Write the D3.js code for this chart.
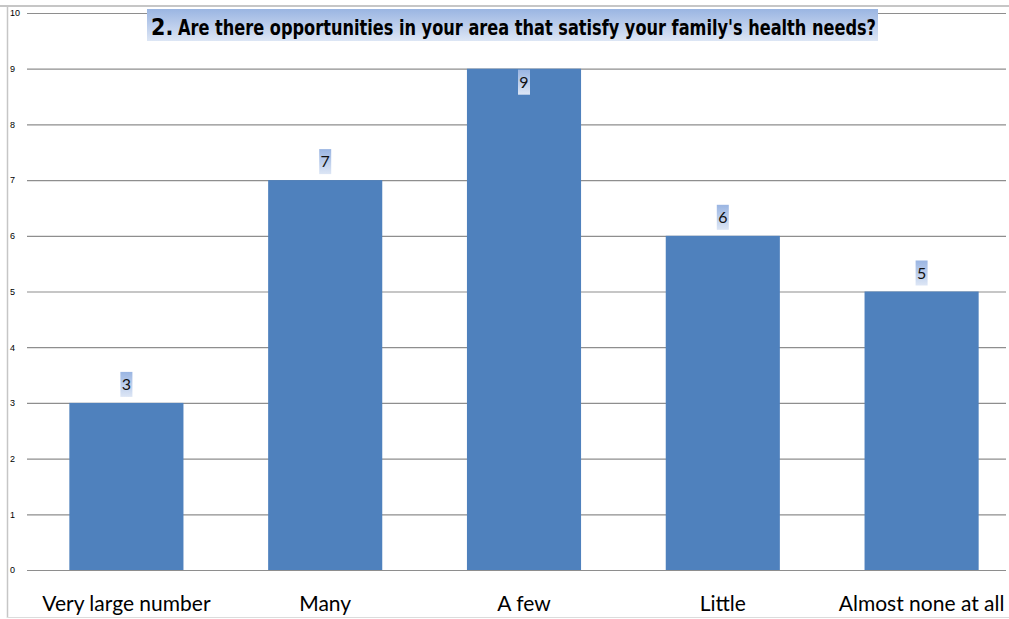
<!DOCTYPE html>
<html>
<head>
<meta charset="utf-8">
<script src="https://cdn.jsdelivr.net/npm/d3@7"></script>
<style>
  html, body { margin: 0; padding: 0; background: #fff; }
  svg { display: block; }
</style>
</head>
<body>
<svg id="chart" width="1009" height="619"></svg>
<script>
// Survey answers: number of respondents per answer
const categories = ["Very large number", "Many", "A few", "Little", "Almost none at all"];
const counts = [3, 7, 9, 6, 5];
const yTicks = [0, 1, 2, 3, 4, 5, 6, 7, 8, 9, 10];
const titleNumber = "2.";
const titleText = "Are there opportunities in your area that satisfy your family's health needs?";

const svg = d3.select("#chart");
const W = 1009, H = 619;

// gradient used for the title and value-label highlights
const defs = svg.append("defs");
const g1 = defs.append("linearGradient").attr("id", "hl").attr("x1", 0).attr("y1", 0).attr("x2", 0).attr("y2", 1);
g1.append("stop").attr("offset", "0%").attr("stop-color", "#9ab5e2");
g1.append("stop").attr("offset", "100%").attr("stop-color", "#dde6f5");

// outer frame
svg.append("line").attr("x1", 0).attr("x2", W).attr("y1", 6).attr("y2", 6)
  .attr("stroke", "#c6c6c6").attr("stroke-width", 2);
svg.append("line").attr("x1", 7.5).attr("x2", 7.5).attr("y1", 5).attr("y2", 618)
  .attr("stroke", "#c6c6c6").attr("stroke-width", 1.5);
svg.append("line").attr("x1", 7).attr("x2", W).attr("y1", 617.5).attr("y2", 617.5)
  .attr("stroke", "#dcdcdc").attr("stroke-width", 1);

const x = d3.scaleBand().domain(categories).range([27, 1021]).paddingInner(0.426).paddingOuter(0.213);
const y = d3.scaleLinear().domain([0, 10]).range([570, 13]);

// horizontal gridlines with tick labels
const yAxis = d3.axisLeft(y).tickValues(yTicks).tickSize(-(1006 - 27)).tickFormat(d3.format("d"));
const ya = svg.append("g").attr("transform", "translate(27,0)").call(yAxis);
ya.select(".domain").remove();
ya.selectAll(".tick line").attr("stroke", "#8e8e8e").attr("stroke-width", 1.2);
ya.selectAll(".tick text").attr("x", -17).attr("text-anchor", "start")
  .attr("font-family", "Liberation Sans, Arial, sans-serif").attr("font-size", 9).attr("fill", "#000");

// bars
svg.append("g").selectAll("rect").data(counts).join("rect")
  .attr("x", (d, i) => x(categories[i]))
  .attr("y", d => y(d))
  .attr("width", x.bandwidth())
  .attr("height", d => y(0) - y(d))
  .attr("fill", "#4f81bd");

// category axis labels
const xAxis = d3.axisBottom(x).tickSize(0);
const xa = svg.append("g").attr("transform", "translate(0,570)").call(xAxis);
xa.select(".domain").remove();
xa.selectAll(".tick text").attr("y", 41).attr("dy", 0)
  .attr("font-family", "Lato, sans-serif").attr("font-size", 21).attr("fill", "#000");

// value labels with highlight box
const maxV = d3.max(counts);
const lab = svg.append("g").selectAll("g").data(counts).join("g")
  .attr("transform", (d, i) => {
    const cx = x(categories[i]) + x.bandwidth() / 2;
    const top = d === maxV ? y(d) + 1 : y(d) - 31;
    return `translate(${cx},${top})`;
  });
lab.append("rect").attr("x", -6).attr("y", 0).attr("width", 12).attr("height", 25).attr("fill", "url(#hl)");
lab.append("text").attr("x", 0).attr("y", 18).attr("text-anchor", "middle")
  .attr("font-family", "Lato, sans-serif").attr("font-size", 16).attr("fill", "#111")
  .text(d => d);

// title with highlight
svg.append("rect").attr("x", 147).attr("y", 9).attr("width", 731).attr("height", 32).attr("fill", "url(#hl)");
svg.append("text").attr("x", 151).attr("y", 35)
  .attr("font-family", "DejaVu Sans Condensed, DejaVu Sans, sans-serif").attr("font-weight", "bold")
  .attr("font-stretch", "condensed").attr("font-size", 23).attr("fill", "#000")
  .text(titleNumber);
svg.append("text").attr("x", 178).attr("y", 35)
  .attr("font-family", "DejaVu Sans Condensed, DejaVu Sans, sans-serif").attr("font-weight", "bold")
  .attr("font-stretch", "condensed").attr("font-size", 21).attr("fill", "#000")
  .attr("textLength", 698).attr("lengthAdjust", "spacingAndGlyphs")
  .text(titleText);
</script>
</body>
</html>
